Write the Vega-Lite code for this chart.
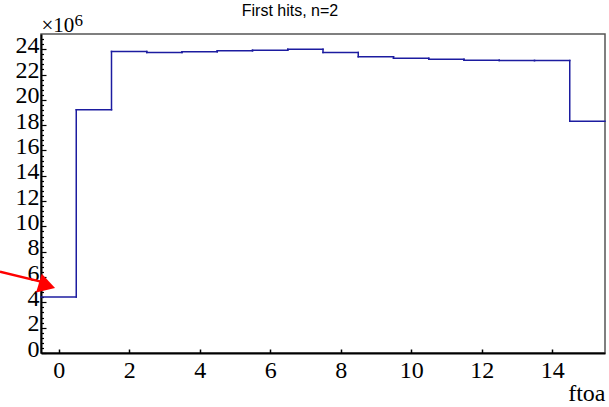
{
  "$schema": "https://vega.github.io/schema/vega-lite/v6.json",
  "width": 564,
  "height": 319,
  "autosize": {"type": "none"},
  "padding": {"left": 41, "top": 34, "right": 4, "bottom": 54},
  "background": "white",
  "config": {
    "view": {"stroke": "#555555", "strokeWidth": 1.5},
    "axis": {"grid": false}
  },
  "title": {
    "text": "First hits, n=2",
    "font": "Liberation Sans",
    "fontSize": 16,
    "fontWeight": "normal",
    "color": "black",
    "anchor": "middle",
    "baseline": "alphabetic",
    "dx": -33,
    "dy": 21,
    "offset": 0
  },
  "resolve": {"scale": {"y": "shared"}, "axis": {"y": "independent"}},
  "datasets": {
    "bins": [
      {"lo": -0.5, "hi": 0.5, "count": 4430000},
      {"lo": 0.5, "hi": 1.5, "count": 19220000},
      {"lo": 1.5, "hi": 2.5, "count": 23820000},
      {"lo": 2.5, "hi": 3.5, "count": 23740000},
      {"lo": 3.5, "hi": 4.5, "count": 23790000},
      {"lo": 4.5, "hi": 5.5, "count": 23870000},
      {"lo": 5.5, "hi": 6.5, "count": 23920000},
      {"lo": 6.5, "hi": 7.5, "count": 24000000},
      {"lo": 7.5, "hi": 8.5, "count": 23740000},
      {"lo": 8.5, "hi": 9.5, "count": 23400000},
      {"lo": 9.5, "hi": 10.5, "count": 23290000},
      {"lo": 10.5, "hi": 11.5, "count": 23210000},
      {"lo": 11.5, "hi": 12.5, "count": 23130000},
      {"lo": 12.5, "hi": 13.5, "count": 23100000},
      {"lo": 13.5, "hi": 14.5, "count": 23100000},
      {"lo": 14.5, "hi": 15.5, "count": 18300000}
    ],
    "arrow": [{"xa": -1.664, "ya": 6420000, "xb": -0.3, "yb": 5500000}],
    "head": [{"xh": -0.33, "yh": 5330000}]
  },
  "layer": [
    {
      "data": {"name": "bins"},
      "mark": {"type": "rule", "color": "#1c1ca0", "strokeWidth": 1.5, "strokeCap": "square"},
      "encoding": {
        "x": {
          "field": "lo", "type": "quantitative",
          "scale": {"domain": [-0.5, 15.5], "nice": false, "zero": false},
          "axis": {
            "values": [0, 2, 4, 6, 8, 10, 12, 14],
            "tickSize": -4, "tickColor": "black", "tickWidth": 1.5,
            "domainColor": "black", "domainWidth": 2,
            "labelFont": "Liberation Serif", "labelFontSize": 24, "labelColor": "black",
            "labelPadding": 9,
            "title": "ftoa",
            "titleFont": "Liberation Serif", "titleFontSize": 24, "titleFontWeight": "normal", "titleColor": "black",
            "titleAnchor": "end", "titleAlign": "right", "titleBaseline": "alphabetic",
            "titleX": 564, "titleY": 47
          }
        },
        "x2": {"field": "hi"},
        "y": {
          "field": "count", "type": "quantitative",
          "scale": {"domain": [0, 25200000], "nice": false, "zero": true},
          "axis": {
            "values": [0, 2000000, 4000000, 6000000, 8000000, 10000000, 12000000, 14000000, 16000000, 18000000, 20000000, 22000000, 24000000],
            "labelExpr": "format(datum.value / 1000000, 'd')",
            "labelOverlap": false,
            "tickSize": -5,
            "tickColor": "black", "tickWidth": 1.2,
            "domainColor": "black", "domainWidth": 2,
            "labelFont": "Liberation Serif", "labelFontSize": 24, "labelColor": "black",
            "labelPadding": 7, "labelBaseline": "middle", "labelOffset": -4,
            "title": "×10",
            "titleFont": "Liberation Serif", "titleFontSize": 21, "titleFontWeight": "normal", "titleColor": "black",
            "titleAngle": 0, "titleAlign": "left", "titleBaseline": "alphabetic",
            "titleX": 0, "titleY": -3
          }
        }
      }
    },
    {
      "data": {"name": "bins"},
      "mark": {"type": "point", "opacity": 0},
      "encoding": {
        "y": {
          "field": "count", "type": "quantitative",
          "axis": {
            "orient": "left",
            "values": [400000, 800000, 1200000, 1600000, 2400000, 2800000, 3200000, 3600000, 4400000, 4800000, 5200000, 5600000, 6400000, 6800000, 7200000, 7600000, 8400000, 8800000, 9200000, 9600000, 10400000, 10800000, 11200000, 11600000, 12400000, 12800000, 13200000, 13600000, 14400000, 14800000, 15200000, 15600000, 16400000, 16800000, 17200000, 17600000, 18400000, 18800000, 19200000, 19600000, 20400000, 20800000, 21200000, 21600000, 22400000, 22800000, 23200000, 23600000, 24400000, 24800000],
            "labels": false,
            "domain": false,
            "tickSize": -2.5,
            "tickColor": "black", "tickWidth": 1.2,
            "title": "6",
            "titleFont": "Liberation Serif", "titleFontSize": 17, "titleFontWeight": "normal", "titleColor": "black",
            "titleAngle": 0, "titleAlign": "left", "titleBaseline": "alphabetic",
            "titleX": 33, "titleY": -9
          }
        }
      }
    },
    {
      "data": {"name": "bins"},
      "transform": [
        {"window": [{"op": "lead", "field": "count", "as": "next"}], "sort": [{"field": "lo"}]},
        {"filter": "datum.next != null"}
      ],
      "mark": {"type": "rule", "color": "#1c1ca0", "strokeWidth": 1.5, "strokeCap": "square"},
      "encoding": {
        "x": {"field": "hi", "type": "quantitative"},
        "y": {"field": "count", "type": "quantitative", "axis": null},
        "y2": {"field": "next"}
      }
    },
    {
      "data": {"name": "arrow"},
      "mark": {"type": "rule", "color": "#ff0000", "strokeWidth": 2.5},
      "encoding": {
        "x": {"field": "xa", "type": "quantitative"},
        "x2": {"field": "xb"},
        "y": {"field": "ya", "type": "quantitative", "axis": null},
        "y2": {"field": "yb"}
      }
    },
    {
      "data": {"name": "head"},
      "mark": {"type": "point", "shape": "triangle-right", "filled": true, "color": "#ff0000", "opacity": 1, "size": 380, "angle": 17},
      "encoding": {
        "x": {"field": "xh", "type": "quantitative"},
        "y": {"field": "yh", "type": "quantitative", "axis": null}
      }
    }
  ]
}
